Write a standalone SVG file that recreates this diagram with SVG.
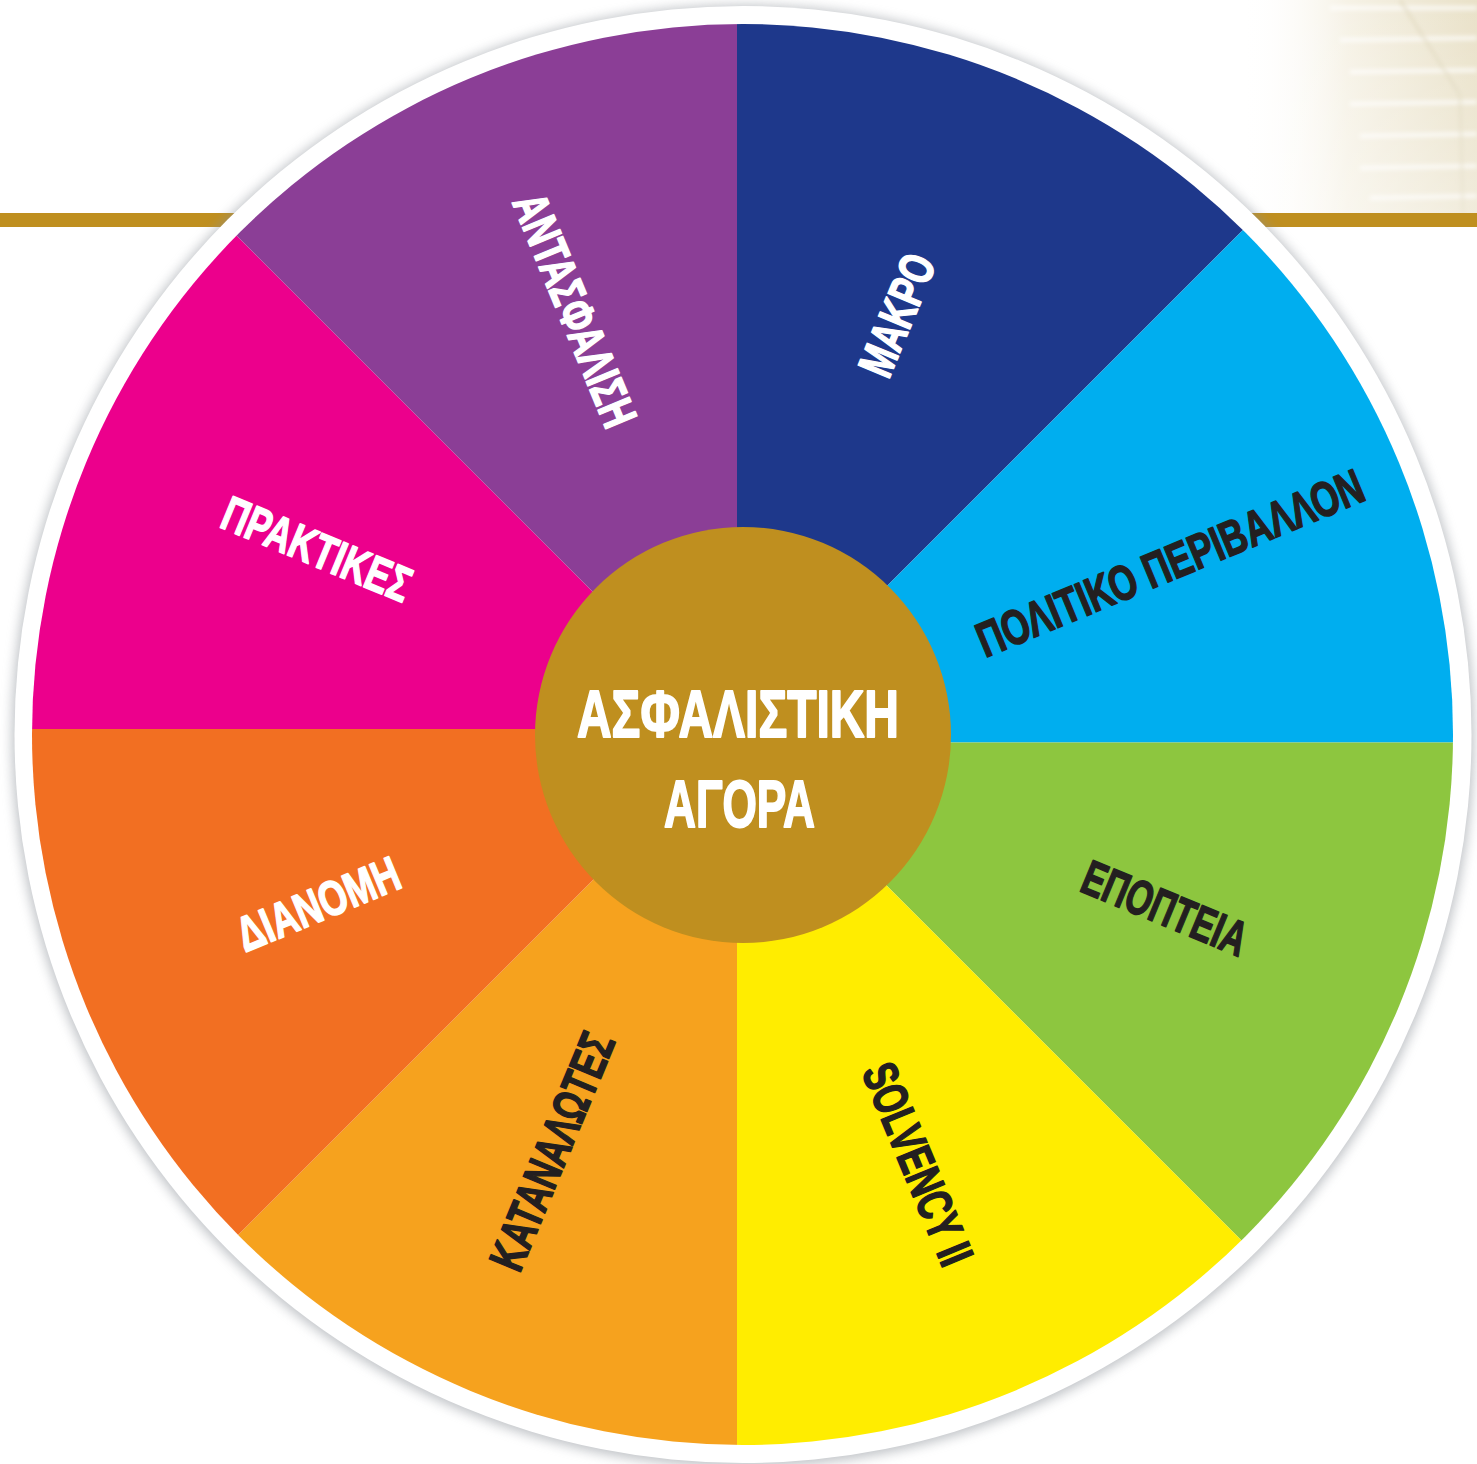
<svg xmlns="http://www.w3.org/2000/svg" width="1477" height="1464" viewBox="0 0 1477 1464">
<defs>
<style>
.lbl{font-family:"Liberation Sans Narrow","Liberation Sans","DejaVu Sans Condensed",sans-serif;font-weight:bold;font-size:49px;text-anchor:middle;stroke-width:1.6;stroke-linejoin:round}
.w{fill:#FFFFFF;stroke:#FFFFFF}
.d{fill:#231F20;stroke:#231F20}
.ctr{font-family:"Liberation Sans Narrow","Liberation Sans","DejaVu Sans Condensed",sans-serif;font-weight:bold;font-size:67px;fill:#FFFFFF;stroke:#FFFFFF;stroke-width:2;stroke-linejoin:round;text-anchor:middle}
</style>
<clipPath id="disk"><circle cx="742.5" cy="734.5" r="710.5"/></clipPath>
<filter id="sh" x="-10%" y="-10%" width="120%" height="120%"><feGaussianBlur stdDeviation="6"/></filter>
<filter id="soft" x="-10%" y="-10%" width="120%" height="120%"><feGaussianBlur stdDeviation="2"/></filter>
<linearGradient id="bg" x1="0" y1="0" x2="1" y2="0">
<stop offset="0" stop-color="#FFFFFF" stop-opacity="0"/>
<stop offset="0.45" stop-color="#F6F2E6"/>
<stop offset="1" stop-color="#E9E1C8"/>
</linearGradient>
<linearGradient id="bgv" x1="0" y1="0" x2="0" y2="1">
<stop offset="0" stop-color="#FFFFFF" stop-opacity="0"/>
<stop offset="1" stop-color="#FFFFFF" stop-opacity="0.35"/>
</linearGradient>
</defs>
<rect width="1477" height="1464" fill="#FFFFFF"/>
<g id="backdrop">
<rect x="1240" y="0" width="237" height="214" fill="url(#bg)"/>
<g stroke="#FFFFFF" stroke-opacity="0.75" stroke-width="4" filter="url(#soft)">
<line x1="1330" y1="8" x2="1477" y2="8"/>
<line x1="1340" y1="40" x2="1477" y2="38"/>
<line x1="1350" y1="72" x2="1477" y2="70"/>
<line x1="1350" y1="104" x2="1477" y2="102"/>
<line x1="1360" y1="136" x2="1477" y2="134"/>
<line x1="1360" y1="168" x2="1477" y2="166"/>
<line x1="1370" y1="198" x2="1477" y2="196"/>
</g>
<path d="M1400 0 L1460 95 L1463 214" fill="none" stroke="#DCD3B8" stroke-opacity="0.6" stroke-width="3" filter="url(#soft)"/>
<rect x="1240" y="0" width="237" height="214" fill="url(#bgv)"/>
<rect x="0" y="213" width="1477" height="14" fill="#BF8F1F"/>
</g>
<g id="ring">
<circle cx="743" cy="736" r="731" fill="#8A9097" opacity="0.55" filter="url(#sh)"/>
<circle cx="743" cy="734.5" r="728.5" fill="#FFFFFF"/>
</g>
<g id="segments" clip-path="url(#disk)">
<polygon id="seg-makro" points="737,736 737,-627 2100,-627" fill="#1E388B"/>
<polygon id="seg-politiko" points="737,736 2100,-627 2100,742.5 900,742.5" fill="#00AEEF"/>
<polygon id="seg-epopteia" points="737,736 900,742.5 2100,742.5 2100,2099" fill="#8DC63F"/>
<polygon id="seg-solvency" points="737,736 2100,2099 737,2099" fill="#FFED00"/>
<polygon id="seg-katanalotes" points="737,736 737,2099 -626,2099" fill="#F6A21E"/>
<polygon id="seg-dianomi" points="737,736 -626,2099 -626,729 600,729" fill="#F26F22"/>
<polygon id="seg-praktikes" points="737,736 600,729 -626,729 -626,-627" fill="#EC008C"/>
<polygon id="seg-antasfalisi" points="737,736 -626,-627 737,-627" fill="#8B3E96"/>
</g>
<g id="connectors"></g>
<g id="label-makro" transform="translate(897,315) rotate(-67.5)"><text class="lbl w" x="0" y="17" textLength="127" lengthAdjust="spacingAndGlyphs">ΜΑΚΡΟ</text></g>
<g id="label-politiko" transform="translate(1170,563) rotate(-22.5)"><text class="lbl d" x="0" y="17" textLength="414" lengthAdjust="spacingAndGlyphs">ΠΟΛΙΤΙΚΟ ΠΕΡΙΒΑΛΛΟΝ</text></g>
<g id="label-epopteia" transform="translate(1165,908) rotate(22.5)"><text class="lbl d" x="0" y="17" textLength="174" lengthAdjust="spacingAndGlyphs">ΕΠΟΠΤΕΙΑ</text></g>
<g id="label-solvency" transform="translate(918,1164) rotate(67.5)"><text class="lbl d" x="0" y="17" textLength="214" lengthAdjust="spacingAndGlyphs">SOLVENCY II</text></g>
<g id="label-katanalotes" transform="translate(552,1151) rotate(-67.5)"><text class="lbl d" x="0" y="17" textLength="252" lengthAdjust="spacingAndGlyphs">ΚΑΤΑΝΑΛΩΤΕΣ</text></g>
<g id="label-dianomi" transform="translate(318,904) rotate(-22.5)"><text class="lbl w" x="0" y="17" textLength="172" lengthAdjust="spacingAndGlyphs">ΔΙΑΝΟΜΗ</text></g>
<g id="label-praktikes" transform="translate(317,549) rotate(22.5)"><text class="lbl w" x="0" y="17" textLength="200" lengthAdjust="spacingAndGlyphs">ΠΡΑΚΤΙΚΕΣ</text></g>
<g id="label-antasfalisi" transform="translate(575,310) rotate(67.5)"><text class="lbl w" x="0" y="17" textLength="248" lengthAdjust="spacingAndGlyphs">ΑΝΤΑΣΦΑΛΙΣΗ</text></g>
<g id="center">
<circle cx="743" cy="735" r="208" fill="#BF8F1F"/>
<text class="ctr" x="738" y="737" textLength="322" lengthAdjust="spacingAndGlyphs">ΑΣΦΑΛΙΣΤΙΚΗ</text>
<text class="ctr" x="739.5" y="827" textLength="151" lengthAdjust="spacingAndGlyphs">ΑΓΟΡΑ</text>
</g>
</svg>
